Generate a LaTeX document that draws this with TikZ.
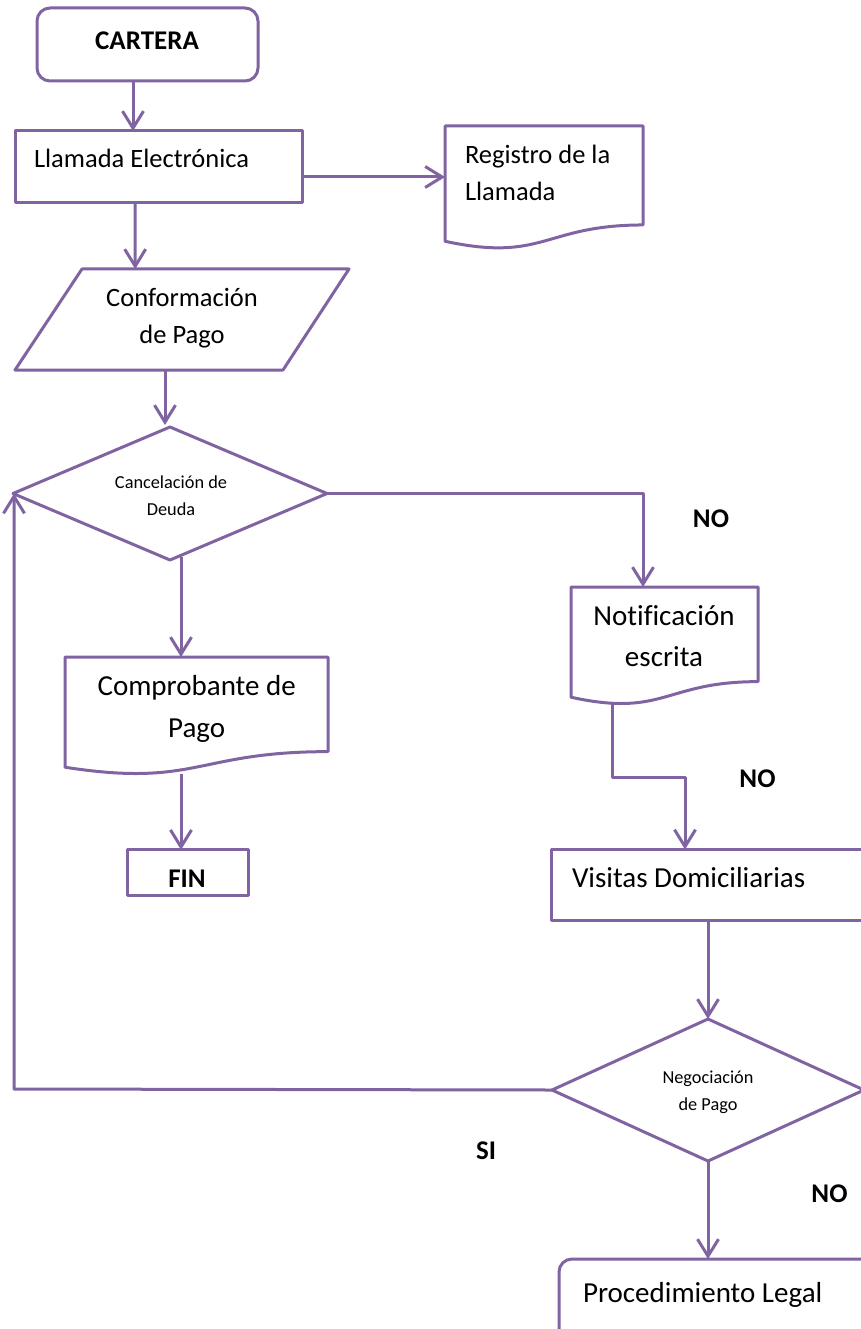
\documentclass[tikz,border=0pt]{standalone}
\usepackage{fontspec}
\setmainfont{Carlito}[Ligatures=NoCommon]
\usetikzlibrary{arrows.meta,shapes.geometric,calc}
\definecolor{flowpurple}{HTML}{8064A2}
\newcommand\txtmid{\fontsize{26.5}{37}\selectfont}
\newcommand\txtbig{\fontsize{29}{41}\selectfont}
\newcommand\txtsmall{\fontsize{18.3}{27}\selectfont}
\newcommand\txtbold{\fontsize{27}{32}\selectfont\bfseries}
\begin{document}
\begin{tikzpicture}[x=1pt,y=-1pt,
  line/.style={draw=flowpurple,line width=3pt,line join=round},
  arr/.style={line,-{Straight Barb[length=17pt,width=21pt]}},
  framebox/.style={line,inner sep=0pt,outer sep=0pt},
  ghost/.style={draw=none,inner sep=0pt,outer sep=0pt},
  txt/.style={inner sep=0pt,outer sep=0pt,text=black},
]
\useasboundingbox (0,0) rectangle (861,1329);
\clip (0,0) rectangle (861,1329);

% ---------- boxes ----------
\node[framebox,rounded corners=13pt,minimum width=221pt,minimum height=73pt] (cartera) at (147.5,44.5) {};
\node[txt,font=\txtbold] (t-cartera) at (147,40.5) {CARTERA};

\node[framebox,minimum width=287pt,minimum height=72pt] (llamada) at (158.5,167) {};
\node[txt,anchor=base west,font=\txtmid] (t-llamada) at (34,168) {Llamada Electrónica};

% document shapes: invisible frame + wavy outline
\newcommand\docoutline[1]{%
  \draw[line] (#1.north west) -- (#1.north east)
    -- ($(#1.north east)!0.802!(#1.south east)$)
    .. controls ($(#1.north)!0.802!(#1.south)$) and ($(#1.north)!1.1075!(#1.south)$)
    .. ($(#1.north west)!0.934!(#1.south west)$) -- cycle;}

\node[ghost,minimum width=198pt,minimum height=123.4pt] (registro) at (544,187.7) {};
\docoutline{registro}
\node[txt,anchor=west,align=left,font=\txtmid] (t-registro) at (465,173) {Registro de la\\Llamada};

% input parallelogram
\node[ghost,minimum width=334pt,minimum height=101pt] (conf) at (182,319.5) {};
\draw[line] ([xshift=67pt]conf.north west) -- (conf.north east)
  -- ([xshift=-66pt]conf.south east) -- (conf.south west) -- cycle;
\node[txt,align=center,font=\txtmid] (t-conf) at (182,318) {Conformación\\de Pago};

\node[framebox,diamond,minimum width=314pt,minimum height=133pt] (cancel) at (170,493.5) {};
\node[txt,align=center,font=\txtsmall] (t-cancel) at (171,495.5) {Cancelación de\\Deuda};

\node[ghost,minimum width=263pt,minimum height=118pt] (comprob) at (196.5,716) {};
\docoutline{comprob}
\node[txt,align=center,font=\fontsize{29}{42}\selectfont] (t-comprob) at (196.7,709) {Comprobante de\\Pago};

\node[framebox,minimum width=121pt,minimum height=46pt] (fin) at (187.5,872.8) {};
\node[txt,font=\txtbold] (t-fin) at (187,878.5) {FIN};

\node[ghost,minimum width=187pt,minimum height=118pt] (notif) at (664.5,646) {};
\docoutline{notif}
\node[txt,align=center,font=\txtbig] (t-notif) at (664,636.5) {Notificación\\escrita};

\node[framebox,minimum width=330pt,minimum height=71pt] (visitas) at (716,885) {};
\node[txt,anchor=base west,font=\txtbig] (t-visitas) at (572,887) {Visitas Domiciliarias};

\node[framebox,diamond,minimum width=312pt,minimum height=142pt] (negoc) at (708,1090) {};
\node[txt,align=center,font=\txtsmall] (t-negoc) at (708,1092) {Negociación\\de Pago};

\node[framebox,rounded corners=13pt,minimum width=320pt,minimum height=110pt] (legal) at (719,1314) {};
\node[txt,anchor=base west,font=\txtbig] (t-legal) at (583,1302) {Procedimiento Legal};

% ---------- guide columns for the connectors ----------
\coordinate (c-conf) at (165,0);
\coordinate (c-notif) at (643,0);
\coordinate (c-left) at (181,0);
\coordinate (c-mid) at (685,0);
\coordinate (c-right) at (708,0);
\coordinate (notif-out) at (612,702);
\coordinate (notif-step) at (685,777);
\coordinate (comprob-out) at (181,774);
\coordinate (back-corner) at (14,1089);

% ---------- connectors ----------
\draw[arr] ([xshift=-14.5pt]cartera.south) -- ([xshift=-25.5pt]llamada.north);
\draw[arr] ([yshift=-10pt]llamada.east) -- ([yshift=10.7pt]registro.west);
\draw[arr] ([xshift=-23.5pt]llamada.south) -- ($(conf.north west)!0.36!(conf.north east)$);
\draw[arr] (conf.south -| c-conf) -- ([yshift=2pt]cancel.north -| c-conf);
\draw[arr] (cancel.east) -| (notif.north -| c-notif);
\draw[arr] ([yshift=3pt]cancel.south -| c-left) -- (comprob.north -| c-left);
\draw[arr] (comprob-out) -- (fin.north -| c-left);
\draw[arr] (notif-out) |- (notif-step) -- (visitas.north -| c-mid);
\draw[arr] (visitas.south -| c-right) -- (negoc.north);
\draw[arr] (negoc.west) -- (back-corner) -- (cancel.west -| back-corner);
\draw[arr] (negoc.south) -- (legal.north -| c-right);

% ---------- branch labels ----------
\node[txt,font=\txtbold] (no-a) at (711,519) {NO};
\node[txt,font=\txtbold] (no-b) at (757.5,779) {NO};
\node[txt,font=\txtbold] (si)   at (486,1151) {SI};
\node[txt,font=\txtbold] (no-c) at (829.5,1194) {NO};
\end{tikzpicture}
\end{document}
